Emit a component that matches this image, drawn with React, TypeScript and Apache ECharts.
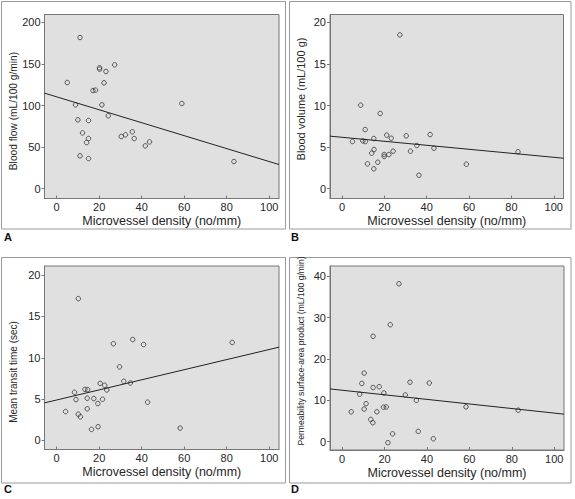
import React, { useEffect, useRef } from "react";
import * as echarts from "echarts";

// ---- data ----
const xTicks = [0, 20, 40, 60, 80, 100];
const xName = "Microvessel density (no/mm)";

const flowTicks = [0, 50, 100, 150, 200];
const flowName = "Blood flow (mL/100 g/min)";
const flowPoints: [number, number][] = [
  [11.0, 181.9], [5.0, 127.7], [20.2, 145.4], [20.2, 143.8], [27.3, 149], [23.2, 141],
  [22.3, 127.3], [17.1, 118], [18.3, 118.5], [8.9, 100.8], [21.3, 100.8], [10.0, 82.7],
  [15.0, 81.9], [24.3, 87.6], [12.2, 67], [15.0, 60.2], [14.1, 55.4], [11.0, 39.4],
  [15.0, 36.1], [30.4, 62.7], [32.4, 64.7], [35.6, 68.3], [36.5, 60.2], [41.7, 51.4],
  [43.7, 56.2], [58.9, 102.4], [83.4, 32.5],
];
const flowLine: [number, number][] = [[-5.7, 114.9], [104.6, 28.9]];

const volTicks = [0, 5, 10, 15, 20];
const volName = "Blood volume (mL/100 g)";
const volPoints: [number, number][] = [
  [27.3, 18.5], [8.8, 10.04], [18.0, 9.04], [10.9, 7.1], [4.9, 5.66], [9.8, 5.74],
  [11.0, 5.66], [15.0, 6.02], [21.1, 6.43], [23.2, 6.06], [30.3, 6.35], [41.6, 6.5],
  [35.3, 5.18], [15.1, 4.7], [14.0, 4.26], [19.9, 4.1], [19.9, 3.86], [22.1, 4.1],
  [24.1, 4.5], [32.3, 4.5], [43.4, 4.86], [12.0, 2.97], [16.9, 3.17], [15.0, 2.37],
  [36.3, 1.6], [58.7, 2.93], [83.1, 4.42],
];
const volLine: [number, number][] = [[-5.7, 6.31], [104.6, 3.65]];

const mttTicks = [0, 5, 10, 15, 20];
const mttName = "Mean transit time (sec)";
const mttPoints: [number, number][] = [
  [10.2, 17.15], [26.7, 11.7], [35.8, 12.2], [40.9, 11.6], [82.6, 11.85], [29.6, 8.9],
  [31.6, 7.15], [34.7, 6.95], [20.5, 6.9], [22.6, 6.67], [23.6, 6.1], [13.3, 6.18],
  [14.6, 6.14], [8.4, 5.82], [9.1, 4.94], [14.4, 5.1], [17.5, 5.06], [21.6, 4.98],
  [19.4, 4.46], [42.8, 4.62], [4.2, 3.49], [14.4, 3.82], [10.2, 3.17], [11.2, 2.85],
  [16.4, 1.33], [19.5, 1.65], [58.1, 1.49],
];
const mttLine: [number, number][] = [[-5.7, 4.54], [104.6, 11.28]];

const psTicks = [0, 10, 20, 30, 40];
const psName = "Permeability surface-area product (mL/100 g/min)";
const psPoints: [number, number][] = [
  [26.8, 38.2], [22.7, 28.3], [14.6, 25.5], [10.4, 16.6], [9.3, 14.1], [32.0, 14.4],
  [41.1, 14.2], [14.6, 13.1], [17.5, 13.3], [19.7, 11.8], [8.3, 11.5], [29.8, 11.3],
  [35.0, 10.0], [11.3, 9.2], [10.4, 7.9], [19.5, 8.35], [20.8, 8.4], [58.4, 8.43],
  [83.0, 7.63], [4.3, 7.23], [16.4, 7.23], [13.5, 5.4], [14.5, 4.6], [23.8, 1.9],
  [35.9, 2.5], [43.0, 0.72], [21.6, -0.24],
];
const psLine: [number, number][] = [[-5.7, 12.77], [104.6, 6.67]];

const panelLetters = ["A", "B", "C", "D"];

// ---- layout / style ----
const FONT = "Liberation Sans";
const TEXT = "#262626";

const panels = [
  { grid: { left: 44.5, top: 14.5, width: 234.5, height: 184 }, yMin: -12, yMax: 209.6, ticks: flowTicks, name: flowName, pts: flowPoints, line: flowLine, nameSize: 10.2, nameX: 13, nameY: 111 },
  { grid: { left: 330, top: 14.5, width: 233.5, height: 184 }, yMin: -1.2, yMax: 20.96, ticks: volTicks, name: volName, pts: volPoints, line: volLine, nameSize: 11, nameX: 301, nameY: 99 },
  { grid: { left: 44.5, top: 266, width: 234.5, height: 183.5 }, yMin: -1.1, yMax: 21.1, ticks: mttTicks, name: mttName, pts: mttPoints, line: mttLine, nameSize: 10, nameX: 13, nameY: 372 },
  { grid: { left: 330, top: 266, width: 234, height: 184 }, yMin: -2.0, yMax: 42.5, ticks: psTicks, name: psName, pts: psPoints, line: psLine, nameSize: 8.6, nameX: 301, nameY: 351 },
];

const boxes = [
  { x: 1.5, y: 1.5, w: 284, h: 227.5 },
  { x: 289.5, y: 1.5, w: 281.5, h: 227.5 },
  { x: 1.5, y: 257.5, w: 284, h: 225.5 },
  { x: 289.5, y: 257.5, w: 281.5, h: 225.5 },
];
const letterPos = [
  { x: 4, y: 237 },
  { x: 291, y: 237 },
  { x: 4, y: 489 },
  { x: 291, y: 489 },
];

export default function App() {
  const ref = useRef<HTMLDivElement>(null);
  useEffect(() => {
    if (!ref.current) return;
    const chart = echarts.init(ref.current, null, { renderer: "svg" });
    const grids: any[] = [];
    const xAxes: any[] = [];
    const yAxes: any[] = [];
    const series: any[] = [];
    const graphic: any[] = [];
    panels.forEach((p, i) => {
      grids.push({
        ...p.grid,
        show: true,
        backgroundColor: "#e0e0e0",
        borderColor: "#777",
        borderWidth: 1,
      });
      xAxes.push({
        type: "value",
        gridIndex: i,
        min: -5.7,
        max: 104.6,
        name: xName,
        nameLocation: "middle",
        nameGap: 16,
        nameTextStyle: { fontFamily: FONT, fontSize: 12.5, color: TEXT },
        axisLine: { show: true, onZero: false, lineStyle: { color: "#777", width: 1 } },
        axisTick: { show: true, inside: true, length: 3, customValues: xTicks, lineStyle: { color: "#777" } },
        axisLabel: { customValues: xTicks, margin: 3, fontFamily: FONT, fontSize: 11, color: TEXT },
        splitLine: { show: false },
      });
      yAxes.push({
        type: "value",
        gridIndex: i,
        min: p.yMin,
        max: p.yMax,
        axisLine: { show: true, onZero: false, lineStyle: { color: "#777", width: 1 } },
        axisTick: { show: true, inside: false, length: 3, customValues: p.ticks, lineStyle: { color: "#777" } },
        axisLabel: { customValues: p.ticks, margin: 4, fontFamily: FONT, fontSize: 11, color: TEXT },
        splitLine: { show: false },
      });
      series.push({
        type: "scatter",
        xAxisIndex: i,
        yAxisIndex: i,
        data: p.pts,
        symbol: "circle",
        symbolSize: 4.5,
        itemStyle: { color: "rgba(0,0,0,0)", borderColor: "#333", borderWidth: 1 },
        silent: true,
      });
      series.push({
        type: "line",
        xAxisIndex: i,
        yAxisIndex: i,
        data: p.line,
        showSymbol: false,
        symbol: "none",
        lineStyle: { color: "#222", width: 1 },
        silent: true,
      });
      graphic.push({
        type: "text",
        x: p.nameX,
        y: p.nameY,
        rotation: Math.PI / 2,
        style: {
          text: p.name,
          fontFamily: FONT,
          fontSize: p.nameSize,
          fill: TEXT,
          align: "center",
          verticalAlign: "middle",
        },
        silent: true,
      });
    });
    boxes.forEach((b) => {
      graphic.push({
        type: "rect",
        shape: { x: b.x, y: b.y, width: b.w, height: b.h },
        style: { fill: "none", stroke: "#9a9a9a", lineWidth: 1 },
        silent: true,
        z: -10,
      });
    });
    panelLetters.forEach((l, i) => {
      graphic.push({
        type: "text",
        x: letterPos[i].x,
        y: letterPos[i].y,
        style: {
          text: l,
          fontFamily: FONT,
          fontSize: 11,
          fontWeight: "bold",
          fill: "#111",
          verticalAlign: "middle",
          align: "left",
        },
      });
    });
    chart.setOption({
      animation: false,
      backgroundColor: "#ffffff",
      grid: grids,
      xAxis: xAxes,
      yAxis: yAxes,
      series,
      graphic,
    });
    return () => chart.dispose();
  }, []);
  return (
    <div
      ref={ref}
      style={{ position: "fixed", left: 0, top: 0, width: 575, height: 499 }}
    />
  );
}
